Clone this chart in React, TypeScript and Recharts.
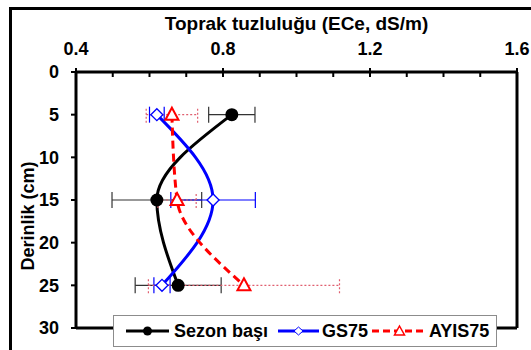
import { ComposedChart, Line, XAxis, YAxis, ErrorBar, ReferenceLine } from "recharts";

const depths = [5, 15, 25];
const sezonBasi = [0.824, 0.62, 0.678];
const sezonBasiErr = [0.063, 0.122, 0.117];
const gs75 = [0.62, 0.773, 0.634];
const gs75Err = [0.02, 0.115, 0.022];
const ayis75 = [0.661, 0.675, 0.857];
const ayis75Err = [0.07, 0.052, 0.26];

const xTicks = [0.4, 0.5, 0.6, 0.7, 0.8, 0.9, 1.0, 1.1, 1.2, 1.3, 1.4, 1.5, 1.6];
const xLabels = ["0.4", "0.8", "1.2", "1.6"];
const yTicks = [0, 5, 10, 15, 20, 25, 30];

const FONT = '"Liberation Sans", Arial, sans-serif';

const data = depths.map((d, i) => ({
  depth: d,
  sb: sezonBasi[i],
  sbErr: sezonBasiErr[i],
  gs: gs75[i],
  gsErr: gs75Err[i],
  ay: ayis75[i],
  ayErr: ayis75Err[i],
}));

function TopTick(props: any) {
  const { x, y, payload } = props;
  const label = xLabels.find((l) => Math.abs(parseFloat(l) - payload.value) < 1e-6);
  return (
    <g>
      <line x1={x} x2={x} y1={label ? y - 4 : y} y2={y + 5} stroke="#000" strokeWidth={2} />
      {label && (
        <text x={x} y={y - 17} textAnchor="middle" fontSize={18} fontWeight="bold" fill="#000" fontFamily={FONT}>
          {label}
        </text>
      )}
    </g>
  );
}

const Dot = (props: any) => <circle key={`c${props.index}`} cx={props.cx} cy={props.cy} r={6.5} fill="#000" />;

const Diamond = (props: any) => {
  const { cx, cy } = props;
  return (
    <path
      key={`d${props.index}`}
      d={`M${cx - 6},${cy} L${cx},${cy - 6} L${cx + 6},${cy} L${cx},${cy + 6} Z`}
      fill="#fff"
      stroke="#0000ff"
      strokeWidth={1.3}
    />
  );
};

const Triangle = (props: any) => {
  const { cx, cy } = props;
  return (
    <path
      key={`t${props.index}`}
      d={`M${cx},${cy - 7} L${cx + 6.5},${cy + 5} L${cx - 6.5},${cy + 5} Z`}
      fill="#fff"
      stroke="#ff0000"
      strokeWidth={2}
    />
  );
};

function LegendBox() {
  const text = { fontSize: 18, fontWeight: "bold" as const, fontFamily: FONT, color: "#000" };
  const item = (left: number) => ({ position: "absolute" as const, left, top: 0, height: "100%", display: "flex", alignItems: "center" });
  return (
    <div
      style={{
        position: "absolute",
        left: 113,
        top: 315,
        width: 382,
        height: 30,
        border: "1px solid #8c8c8c",
        background: "#fff",
      }}
    >
      <div style={item(12)}>
        <svg width={43} height={14}>
          <line x1={0} x2={43} y1={7} y2={7} stroke="#000" strokeWidth={3} />
          <circle cx={21.5} cy={7} r={4.5} fill="#000" />
        </svg>
      </div>
      <div style={{ ...item(60), ...text }}>Sezon başı</div>
      <div style={item(164)}>
        <svg width={41} height={14}>
          <line x1={0} x2={41} y1={7} y2={7} stroke="#0000ff" strokeWidth={3} />
          <path d="M16,7 L20.5,3 L25,7 L20.5,11 Z" fill="#fff" stroke="#0000ff" strokeWidth={1} />
        </svg>
      </div>
      <div style={{ ...item(208), ...text }}>GS75</div>
      <div style={item(258)}>
        <svg width={55} height={14}>
          <line x1={0} x2={55} y1={7} y2={7} stroke="#ff0000" strokeWidth={3} strokeDasharray="7 4" />
          <path d="M27.5,2 L32.5,11 L22.5,11 Z" fill="#fff" stroke="#ff0000" strokeWidth={1.5} />
        </svg>
      </div>
      <div style={{ ...item(315), ...text }}>AYIS75</div>
    </div>
  );
}

export default function App() {
  return (
    <div style={{ position: "absolute", left: 0, top: 0, width: 531, height: 350, background: "#fff", overflow: "hidden" }}>
      <div
        style={{
          position: "absolute",
          left: 9,
          top: 7,
          width: 540,
          height: 360,
          borderLeft: "3px solid #000",
          borderTop: "3px solid #000",
        }}
      />
      <div style={{ position: "absolute", left: 0, top: 0 }}>
        <ComposedChart
          width={531}
          height={350}
          data={data}
          layout="vertical"
          margin={{ top: 42, right: 14, bottom: 22, left: 36 }}
        >
          <XAxis
            type="number"
            orientation="top"
            domain={[0.4, 1.6]}
            ticks={xTicks}
            interval={0}
            height={30}
            tickSize={0}
            tickMargin={0}
            tickLine={false}
            tick={<TopTick />}
            axisLine={{ stroke: "#000", strokeWidth: 3 }}
            allowDataOverflow
            label={{
              value: "Toprak tuzluluğu (ECe, dS/m)",
              position: "top",
              offset: 12,
              fill: "#000",
              fontSize: 19,
              fontWeight: "bold",
              fontFamily: FONT,
            }}
          />
          <YAxis
            type="number"
            dataKey="depth"
            domain={[0, 30]}
            ticks={yTicks}
            interval={0}
            width={40}
            tickSize={5}
            tickMargin={12}
            tickLine={{ stroke: "#000", strokeWidth: 2 }}
            axisLine={{ stroke: "#000", strokeWidth: 3 }}
            tick={{ fill: "#000", fontSize: 18, fontWeight: "bold", fontFamily: FONT }}
            label={{
              content: () => (
                <text
                  x={34}
                  y={216}
                  transform="rotate(-90 34 216)"
                  textAnchor="middle"
                  fontSize={18}
                  fontWeight="bold"
                  fill="#000"
                  fontFamily={FONT}
                >
                  Derinlik (cm)
                </text>
              ),
            }}
          />
          <ReferenceLine x={1.6} stroke="#000" strokeWidth={3} />
          <ReferenceLine y={30} stroke="#000" strokeWidth={3} />
          <Line
            dataKey="sb"
            type="monotone"
            stroke="#000"
            strokeWidth={3}
            dot={Dot}
            activeDot={false}
            isAnimationActive={false}
          >
            <ErrorBar dataKey="sbErr" direction="x" width={8} stroke="#333" strokeWidth={1.2} />
          </Line>
          <Line
            dataKey="gs"
            type="monotone"
            stroke="#0000ff"
            strokeWidth={3}
            dot={Diamond}
            activeDot={false}
            isAnimationActive={false}
          >
            <ErrorBar dataKey="gsErr" direction="x" width={8} stroke="#0000ff" strokeWidth={1.2} />
          </Line>
          <Line
            dataKey="ay"
            type="monotone"
            stroke="#ff0000"
            strokeWidth={3}
            strokeDasharray="8 5"
            dot={Triangle}
            activeDot={false}
            isAnimationActive={false}
          >
            <ErrorBar dataKey="ayErr" direction="x" width={8} stroke="#e06070" strokeWidth={1.2} strokeDasharray="2 2" />
          </Line>
        </ComposedChart>
      </div>
      <LegendBox />
    </div>
  );
}
